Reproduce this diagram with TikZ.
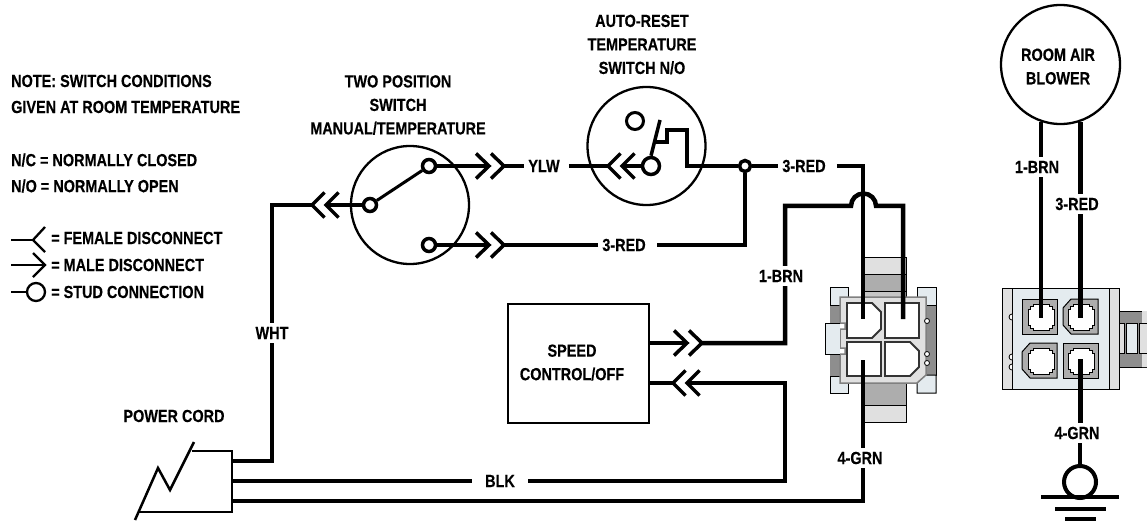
\documentclass[tikz,border=0pt]{standalone}
\usepackage{fontspec}
\setmainfont{Liberation Sans}[FakeStretch=0.825,BoldFeatures={FakeBold=0.3}]
\usetikzlibrary{calc}

\tikzset{
  wire/.style={line width=4.5pt},
  arm/.style={line width=3.5pt},
  inwire/.style={line width=3.5pt},
  thinwire/.style={line width=2.5pt},
  dial/.style={line width=2.3pt},
  stud/.style={circle,draw,fill=white,line width=3.5pt,inner sep=0pt,minimum size=#1},
  stud/.default=15pt,
  tag/.style={font=\bfseries\fontsize{17.5}{17.5}\selectfont,inner xsep=4pt,inner ysep=4pt},
  title/.style={font=\bfseries\fontsize{17.5}{23.5}\selectfont,align=center,inner sep=0pt},
  note/.style={font=\bfseries\fontsize{17.5}{26}\selectfont,align=left,anchor=west,inner sep=0pt},
  edge/.style={draw=black,line width=1pt},
  pale/.style={edge,fill=paleblue},
}
\definecolor{paleblue}{HTML}{E4EBEF}
\definecolor{bodygrey}{HTML}{E0E0E0}
\definecolor{midgrey}{HTML}{ADADAD}
\definecolor{darkgrey}{HTML}{8E8E8E}

% male and female disconnect marks, tip given
\newcommand{\malemark}[1]{\draw[arm] ($(#1)+(-13,-12.5)$)--(#1)--($(#1)+(-13,12.5)$);}
\newcommand{\femalemark}[1]{\draw[arm] ($(#1)+(12.5,-12.5)$)--(#1)--($(#1)+(12.5,12.5)$);}
% blower plug cell, inner white shape
\newcommand{\blowcell}[1]{\draw[edge,fill=white,shift={(#1)}]
  (-8,-13)--(8,-13)--(8,-11)--(11,-11)--(11,-8)--(13,-8)--(13,8)--(11,8)--(11,11)--(8,11)--(8,13)
  --(-8,13)--(-8,11)--(-11,11)--(-11,8)--(-13,8)--(-13,-8)--(-11,-8)--(-11,-11)--(-8,-11)--cycle;}

\begin{document}
\begin{tikzpicture}[x=1pt,y=-1pt]
\useasboundingbox (0,0) rectangle (1147,521);

% texts
\node[note] (noteA) at (11,94) {NOTE: SWITCH CONDITIONS\\GIVEN AT ROOM TEMPERATURE};
\node[note] (noteB) at (11,173) {N/C = NORMALLY CLOSED\\N/O = NORMALLY OPEN};
\node[note] (keyF) at (51,238) {= FEMALE DISCONNECT};
\node[note] (keyM) at (51,265) {= MALE DISCONNECT};
\node[note] (keyS) at (51,292) {= STUD CONNECTION};
\node[title] (twopos) at (398,105) {TWO POSITION\\SWITCH\\MANUAL/TEMPERATURE};
\node[title] (autores) at (642,44.5) {AUTO-RESET\\TEMPERATURE\\SWITCH N/O};
\node[title] (cordtxt) at (174,416) {POWER CORD};

% key symbols
\coordinate (keyA) at (11,240);
\coordinate (keyB) at (33,240);
\draw[dial] (keyA)--(keyB);
\draw[dial] (45,227)--(keyB)--(45,252);
\coordinate (keyC) at (11,265);
\coordinate (keyD) at (45,265);
\draw[dial] (keyC)--(keyD);
\draw[dial] (33,253)--(keyD)--(33,277);
\coordinate (keyE) at (11,292);
\node[circle,draw,dial,minimum size=18pt,inner sep=0pt] (keyG) at (36,292) {};
\draw[dial] (keyE)--(keyG);

% left plug
\fill[bodygrey] (861,257) rectangle (906,274);
\fill[midgrey] (861,274) rectangle (906,291);
\fill[gray!45] (861,291) rectangle (906,297);
\draw[edge] (861,274)--(906,274) (861,291)--(906,291) (906,257)--(906,297) (861,257)--(906,257);
\fill[midgrey] (861,383) rectangle (906,405);
\fill[bodygrey] (861,405) rectangle (906,422);
\draw[edge] (861,405)--(906,405) (861,422)--(906,422)--(906,383);
\fill[darkgrey] (830,305) rectangle (840,376);
\draw[edge,fill=darkgrey] (926,305) rectangle (936,375);
\draw[pale] (848,297)--(848,287)--(830,287)--(830,305)--(840,305);
\draw[pale] (917,297)--(917,287)--(936,287)--(936,305)--(926,305);
\draw[pale] (840,376)--(830,376)--(830,393)--(848,393)--(848,383);
\draw[pale] (917,383)--(925,375)--(936,375)--(936,393)--(917,393)--cycle;
\draw[draw=gray,line width=1.5pt,fill=bodygrey]
  (840,297)--(926,297)--(926,375)--(917,383)--(840,383)--(840,354)--(845,354)--(845,348)--(840,348)
  --(840,329)--(845,329)--(845,323)--(840,323)--cycle;
\fill[paleblue] (825,323) rectangle (840,354);
\draw[edge] (840,323)--(825,323)--(825,354)--(840,354);
\foreach \py in {321,354,363}
  \draw[fill=white,line width=0.8pt] (927,\py) circle (2.5pt);
\draw[fill=white,draw=black!80,line width=1.8pt] (847,303)--(872,303)--(881,312)--(881,329)--(872,338)--(847,338)--cycle;
\draw[fill=white,draw=black!80,line width=1.8pt] (885,303) rectangle (919,338);
\draw[fill=white,draw=black!80,line width=1.8pt] (847,342) rectangle (881,376);
\draw[fill=white,draw=black!80,line width=1.8pt] (885,342)--(910,342)--(919,351)--(919,367)--(910,376)--(885,376)--cycle;

% right plug
\draw[edge,fill=bodygrey] (1109,311) rectangle (1147,367);
\draw[edge,fill=darkgrey] (1109,311) rectangle (1142,367);
\fill[bodygrey] (1142,311) rectangle (1147,323) (1142,353) rectangle (1147,367);
\draw[edge,fill=bodygrey] (1112,323) rectangle (1124,353);
\draw[edge,fill=paleblue] (1126,323) rectangle (1137,353);
\draw[edge,fill=bodygrey] (1139,323) rectangle (1147,353);
\draw[edge,fill=paleblue] (1002,288) rectangle (1119,389);
\draw[edge,fill=bodygrey] (1002,288) rectangle (1012,389);
\draw[edge,fill=bodygrey] (1109,288) rectangle (1119,389);
\foreach \py in {317,357,367}
  \draw[fill=white,line width=0.8pt] (1012,\py+3) arc[start angle=-90,end angle=-270,radius=3pt];
\draw[edge,fill=midgrey] (1022,299) rectangle (1057,334);
\draw[edge,fill=midgrey] (1071,299)--(1098,299)--(1098,334)--(1071,334)--(1063,325)--(1063,308)--cycle;
\draw[edge,fill=midgrey] (1030,343)--(1057,343)--(1057,378)--(1030,378)--(1022,369)--(1022,352)--cycle;
\draw[edge,fill=midgrey] (1063,343) rectangle (1098,378);
\blowcell{1041,317}
\blowcell{1081,317}
\blowcell{1041,361}
\blowcell{1081,361}

% switches and boxes
\coordinate (swA) at (410,205);
\coordinate (swB) at (646.5,146);
\draw[dial] (swA) circle (59pt);
\draw[dial] (swB) circle (59pt);
\node[draw,dial,minimum width=141pt,minimum height=119pt,inner sep=0pt] (speed) at (578.5,363.5) {};
\node[title] (speedtxt) at (572,362.5) {SPEED\\CONTROL/OFF};
\node[circle,draw,dial,minimum size=119pt,inner sep=0pt] (blower) at (1060.5,64.5) {};
\node[title] (blowtxt) at (1058,66.5) {ROOM AIR\\BLOWER};

% power cord
\coordinate (cordT) at (192,451);
\coordinate (cordR) at (232,451);
\coordinate (cordS) at (232,512);
\coordinate (cordB) at (138,512);
\draw[thinwire] (cordT)--(cordR)--(cordS)--(cordB);
\draw[thinwire] (194,442)--(170,490)--(158,468)--(135,520);

% wire labels
\node[tag] (ylw) at (544,166) {YLW};
\node[tag] (redA) at (624,245) {3-RED};
\node[tag] (redB) at (804,166) {3-RED};
\node[tag] (wht) at (272,333) {WHT};
\node[tag,inner xsep=13pt] (blk) at (500,481) {BLK};
\node[tag] (brnA) at (781,276) {1-BRN};
\node[tag] (grnA) at (860,458) {4-GRN};
\node[tag] (brnB) at (1037,167) {1-BRN};
\node[tag] (redC) at (1077,204) {3-RED};
\node[tag] (grnB) at (1077,433) {4-GRN};

% studs
\node[stud=13pt] (studA) at (370,205) {};
\node[stud=13pt] (studB) at (429,166) {};
\node[stud=13pt] (studC) at (429,245) {};
\node[stud=17pt] (studD) at (651,166) {};
\node[circle,draw,line width=3pt,minimum size=17pt,inner sep=0pt] (studE) at (635,121) {};
\node[stud=11pt] (junct) at (745,166) {};
\node[circle,draw,line width=4pt,minimum size=32pt,inner sep=0pt] (gnd) at (1080,482) {};

% disconnect tips
\coordinate (mA) at (489,166);
\coordinate (mB) at (504,166);
\coordinate (mC) at (489,245);
\coordinate (mD) at (504,245);
\coordinate (mE) at (687,343);
\coordinate (mF) at (702,343);
\coordinate (fA) at (608,166);
\coordinate (fB) at (622,166);
\coordinate (fC) at (312,205);
\coordinate (fD) at (326,205);
\coordinate (fE) at (673,383);
\coordinate (fF) at (687,383);
\foreach \tip in {mA,mB,mC,mD,mE,mF} {\malemark{\tip}}
\foreach \tip in {fA,fB,fC,fD,fE,fF} {\femalemark{\tip}}

% wire corners
\coordinate (whtC) at (272,205);
\coordinate (whtD) at (272,461);
\coordinate (whtE) at (232,461);
\coordinate (blkA) at (232,481);
\coordinate (blkB) at (785,481);
\coordinate (blkC) at (785,383);
\coordinate (grnC) at (232,501);
\coordinate (grnD) at (863,501);
\coordinate (grnE) at (863,360);
\coordinate (brnC) at (785,343);
\coordinate (brnD) at (785,206);
\coordinate (brnE) at (851,206);
\coordinate (brnG) at (903,206);
\coordinate (brnH) at (903,319);
\coordinate (redD) at (863,166);
\coordinate (redE) at (863,319);
\coordinate (redF) at (745,245);
\coordinate (cntA) at (687,166);
\coordinate (cntB) at (687,130);
\coordinate (cntC) at (667,130);
\coordinate (cntD) at (667,142);
\coordinate (cntE) at (655,142);
\coordinate (cntF) at (660,120);

% wires
\draw[line width=3pt] (studA)--(studB);
\draw[wire] (studB)--(mA) (mB)--(ylw) ($(ylw.east)+(5,0)$)--(fA);
\draw[inwire] (fB)--(studD);
\draw[inwire] (studD.north)--(cntF);
\draw[inwire] (cntE)--(cntD)--(cntC)--(cntB)--(cntA)--(junct);
\draw[wire] (junct)--(redF)--($(redA.east)+(7,0)$) (redA)--(mD);
\draw[wire] (mC)--(studC);
\draw[wire] (junct)--(redB) ($(redB.east)+(7,0)$)--(redD)--(redE);
\draw[inwire] (fD)--(studA);
\draw[wire] (fC)--(whtC)--(wht) (wht)--(whtD)--(whtE);
\draw[wire] (blkA)--(blk) (blk)--(blkB)--(blkC)--(fF);
\draw[wire] (fE)--(speed.east |- fE);
\draw[wire] (speed.east |- mE)--(mE);
\draw[wire] (mF)--(brnC)--(brnA.south -| brnC) (brnA.north -| brnD)--(brnD)--(brnE)
  arc[start angle=180,end angle=0,radius=12.5pt]--(brnG)--(brnH);
\draw[wire] (grnC)--(grnD)--(grnA.south -| grnD) (grnA.north -| grnE)--(grnE);

% blower wires
\coordinate (blwA) at (1041,318);
\coordinate (blwB) at (1080.5,318);
\coordinate (blwC) at (1080.5,359);
\coordinate (gndA) at (1041,497);
\coordinate (gndB) at (1119,497);
\coordinate (gndC) at (1055,509);
\coordinate (gndD) at (1106,509);
\coordinate (gndE) at (1065,519);
\coordinate (gndF) at (1096,519);
\coordinate (blwD) at (1041,122);
\coordinate (blwE) at (1080.5,122);
\draw[wire] (blwD)--(brnB.north -| blwD) (brnB.south -| blwA)--(blwA);
\draw[wire] (blwE)--(redC.north -| blwE) (redC.south -| blwB)--(blwB);
\draw[wire] (blwC)--(grnB.north -| blwC) (grnB.south -| gnd)--(gnd);
\draw[wire] (gndA)--(gndB) (gndC)--(gndD) (gndE)--(gndF);
\end{tikzpicture}
\end{document}
